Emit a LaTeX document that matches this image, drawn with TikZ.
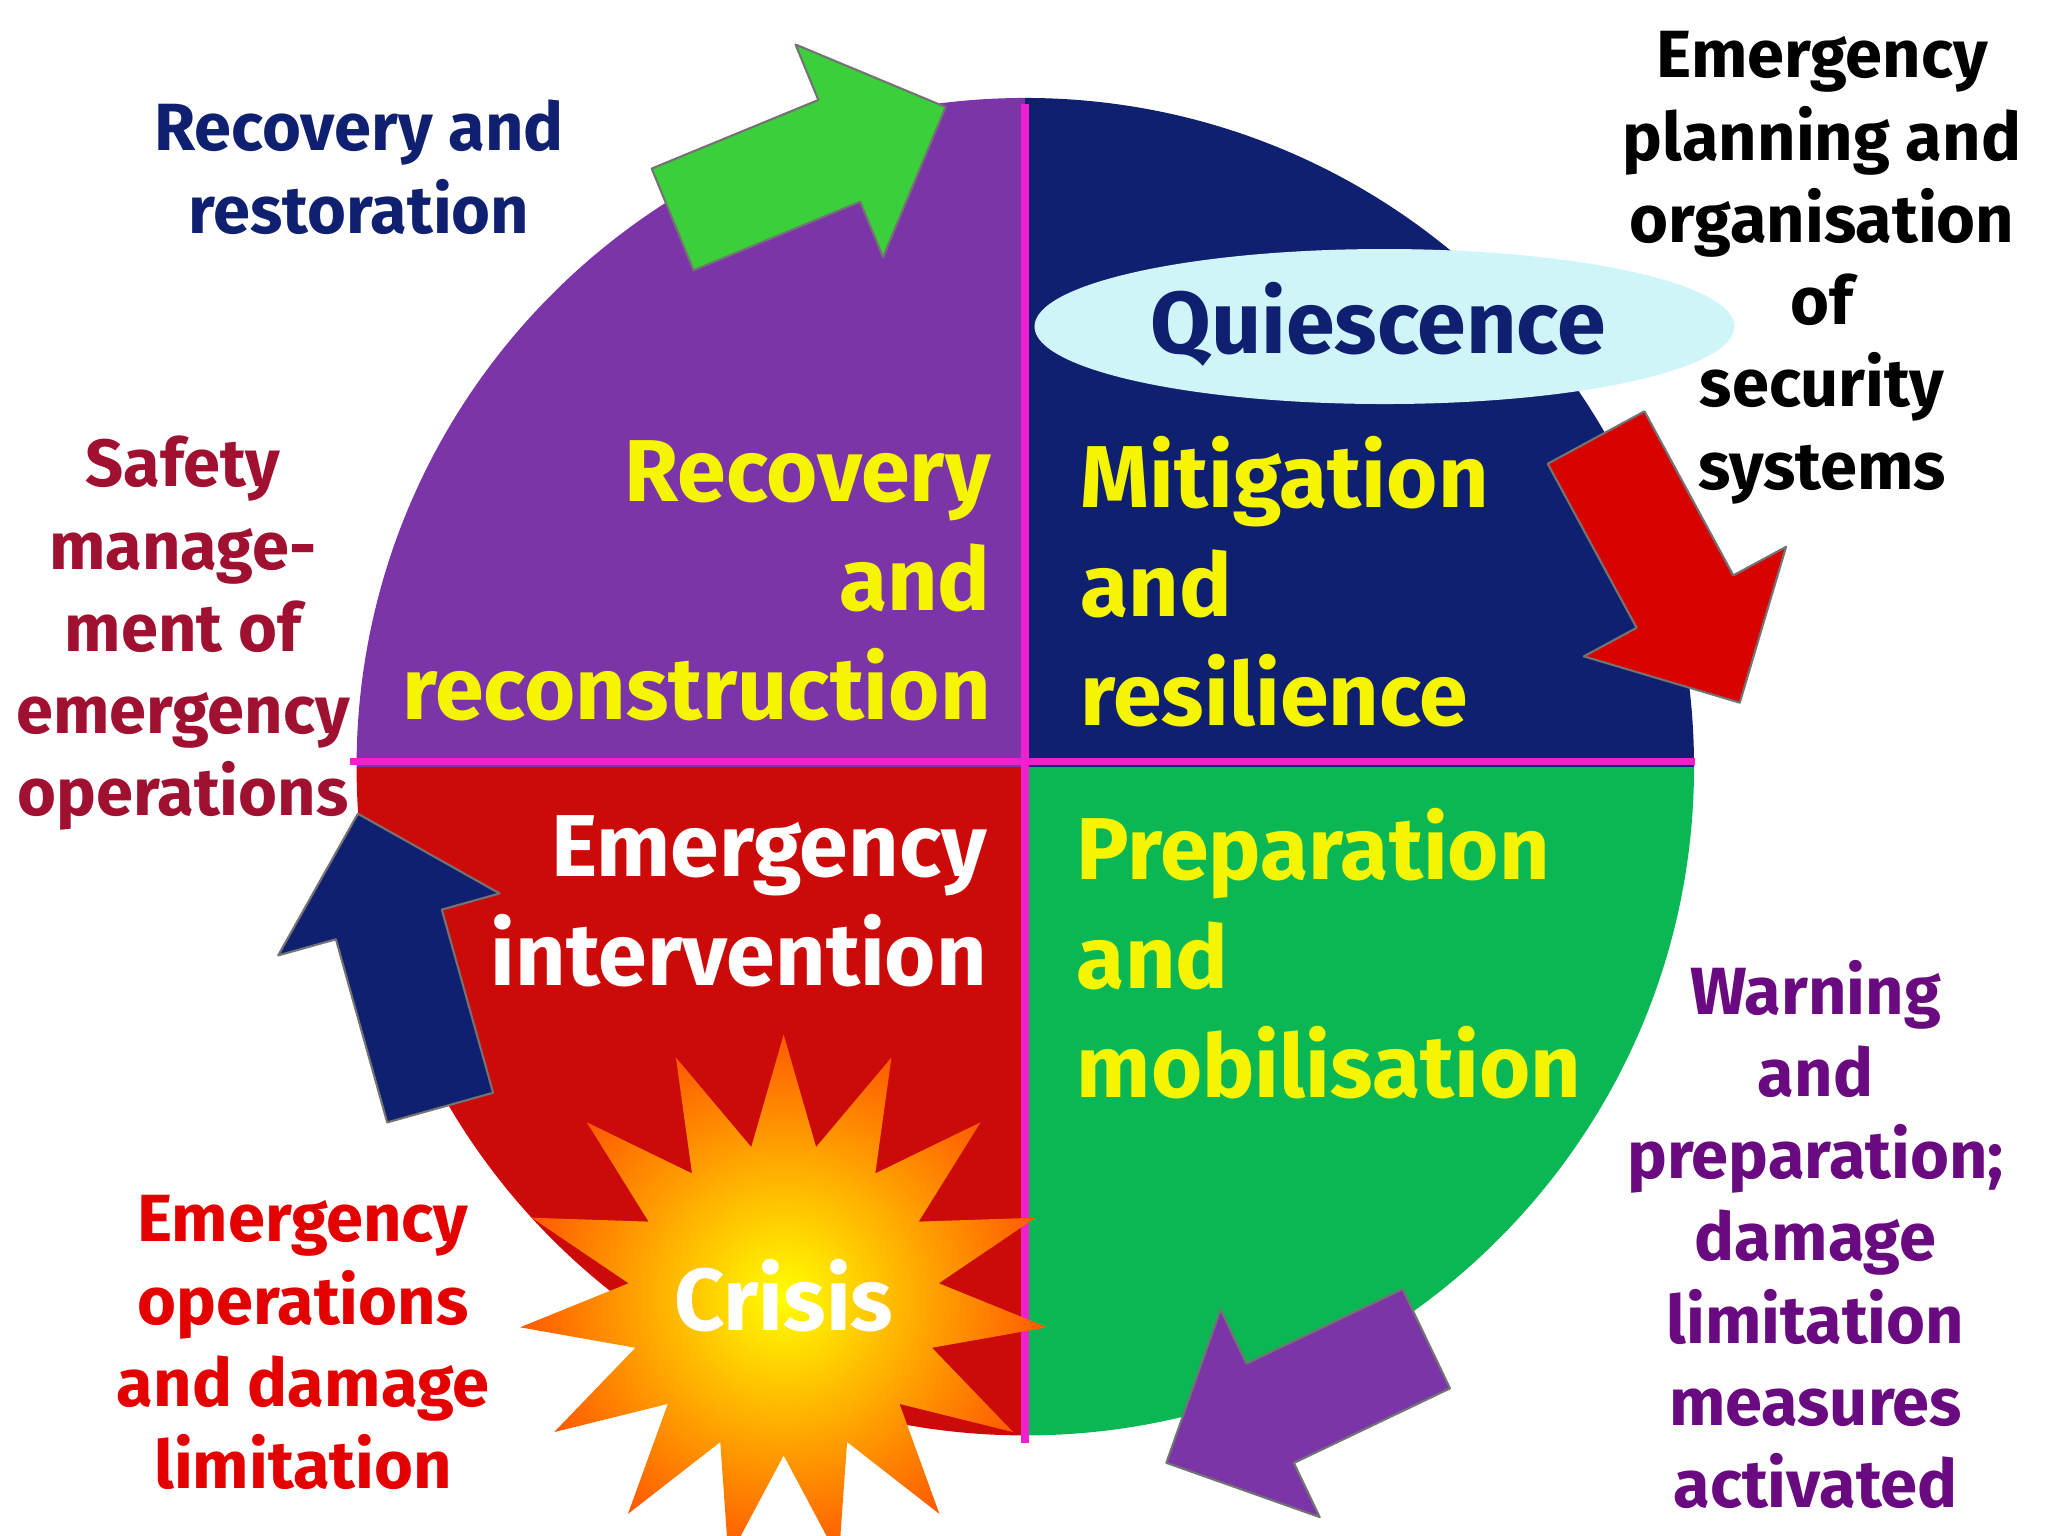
\documentclass[tikz,border=0pt]{standalone}
\usepackage{fontspec}
\setmainfont{Fira Sans}
\usetikzlibrary{shapes.geometric,calc}
\definecolor{qpurple}{HTML}{7B35A8}
\definecolor{qnavy}{HTML}{102070}
\definecolor{qred}{HTML}{CC0A0A}
\definecolor{qgreen}{HTML}{0BB755}
\definecolor{qyellow}{HTML}{F5F500}
\definecolor{qmag}{HTML}{F020D0}
\definecolor{qcrim}{HTML}{A01030}
\definecolor{qviol}{HTML}{6A0A80}
\definecolor{qcyan}{HTML}{CFF5F8}
\definecolor{qlime}{HTML}{3CCF3C}
\tikzset{
  big/.style={font=\bfseries\fontsize{25}{31}\selectfont},
  side/.style={font=\bfseries\fontsize{19}{23.4}\selectfont,align=center},
  cycarr/.style={draw=black!55,line width=0.6pt,line join=round},
}
\newcommand\cycarrow[2]{%
  \coordinate (#1h) at ($(#1b)!1.15cm!(#1a)$);
  \fill[cycarr,fill=#2]
    ($(#1a)!0.55cm!90:(#1b)$) -- ($(#1h)!0.55cm!90:(#1b)$) -- ($(#1h)!1.15cm!90:(#1b)$)
    -- (#1b) -- ($(#1h)!1.15cm!-90:(#1b)$) -- ($(#1h)!0.55cm!-90:(#1b)$)
    -- ($(#1a)!0.55cm!-90:(#1b)$) -- cycle;}
\begin{document}
\begin{tikzpicture}[x=0.01306cm,y=-0.01306cm]
\useasboundingbox (0,0) rectangle (1568,1176);
\fill[white] (0,0) rectangle (1568,1176);
\coordinate (c) at (785,587);
\begin{scope}
\clip (c) circle[radius=512];
\fill[qpurple] (200,0) rectangle (c);
\fill[qnavy] (1400,0) rectangle (c);
\fill[qred] (200,1176) rectangle (c);
\fill[qgreen] (1400,1176) rectangle (c);
\end{scope}
\coordinate (ct) at (785,80); \coordinate (cb) at (785,1105);
\coordinate (cl) at (268,583); \coordinate (cr) at (1298,583);
\draw[qmag,line width=2.2pt] (ct) -- (cb);
\draw[qmag,line width=2.2pt] (cl) -- (cr);
% quiescence
\node[ellipse,fill=qcyan,minimum width=7.0cm,minimum height=1.55cm] (qe) at (1060,250) {};
\node[font=\bfseries\fontsize{25}{31}\selectfont,text=qnavy] (q) at (1055,248) {Quiescence};
% crisis
\node[star,star points=15,star point ratio=1.7,minimum size=5.3cm,inner color=yellow,outer color=orange!70!red] (cs) at (600,995) {};
\node[big,text=white] (cri) at (600,992) {Crisis};
% arrows
\coordinate (ga) at (515,168); \coordinate (gb) at (724,82);
\coordinate (ra) at (1222,335); \coordinate (rb) at (1332,538);
\coordinate (pa) at (1092,1025); \coordinate (pb) at (893,1120);
\coordinate (ba) at (337,848); \coordinate (bb) at (274,623);
\cycarrow{g}{qlime}
\cycarrow{r}{red!85!black}
\cycarrow{p}{qpurple}
\cycarrow{b}{qnavy}
% quadrant texts
\node[big,text=qyellow,align=right,anchor=east] (t1) at (768,445) {Recovery\\and\\reconstruction};
\node[big,text=qyellow,align=left,anchor=west] (t2) at (818,445) {Mitigation\\and\\resilience};
\node[big,text=white,align=right,anchor=east] (t3) at (765,690) {Emergency\\intervention};
\node[big,text=qyellow,align=left,anchor=west] (t4) at (815,730) {Preparation\\and\\mobilisation};
% side texts
\node[side,text=qnavy] (s1) at (275,128) {Recovery and\\restoration};
\node[side,text=black] (s2) at (1395,205) {Emergency\\planning and\\organisation\\of\\security\\systems};
\node[side,text=qcrim] (s3) at (140,485) {Safety\\manage-\\ment of\\emergency\\operations};
\node[side,text=red!90!black] (s4) at (232,1028) {Emergency\\operations\\and damage\\limitation};
\node[side,text=qviol] (s5) at (1390,945) {Warning\\and\\preparation;\\damage\\limitation\\measures\\activated};
\end{tikzpicture}
\end{document}
